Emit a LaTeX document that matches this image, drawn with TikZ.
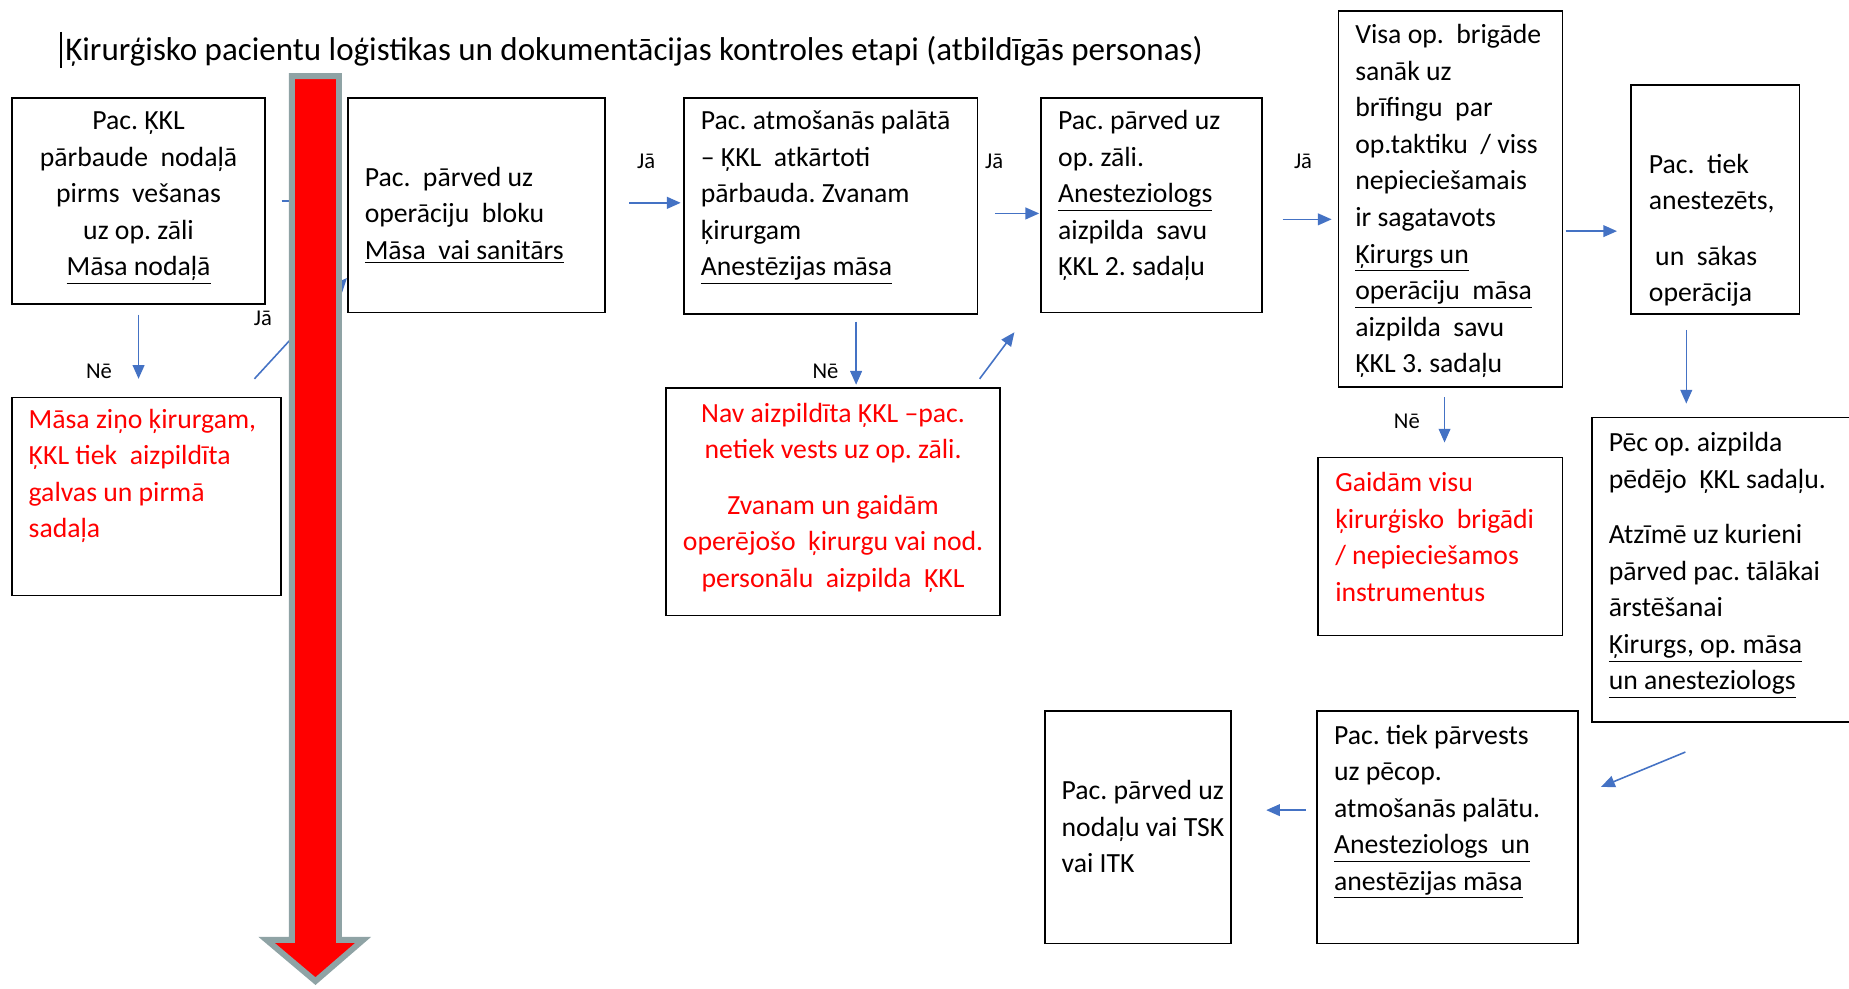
\documentclass[tikz,border=0pt]{standalone}
\usepackage{fontspec}
\setmainfont{Carlito}
\usetikzlibrary{arrows.meta,fit,calc}
\definecolor{arrblue}{HTML}{4472C4}
\definecolor{arrgray}{HTML}{8FA3A5}
\frenchspacing
\begin{document}
\begin{tikzpicture}[x=0.6pt,y=-0.6pt,
  box/.style={draw=black,line width=0.9pt,inner sep=0pt,rectangle},
  txt/.style={inner sep=0pt,font=\fontsize{14.1pt}{18.6pt}\selectfont,align=left,anchor=north west},
  ctxt/.style={inner sep=0pt,font=\fontsize{14.1pt}{18.6pt}\selectfont,align=center,anchor=north},
  redtxt/.style={text=red},
  lbl/.style={inner sep=0pt,font=\fontsize{11.5pt}{14pt}\selectfont},
  arr/.style={draw=arrblue,line width=0.8pt,-{Triangle[length=7pt,width=6pt]}},
]
\clip (0,0) rectangle (1568,838);

% title
\draw[line width=1.2pt] (52,27) -- (52,58);
\node[anchor=base west,inner sep=0pt,font=\fontsize{16.8pt}{20pt}\selectfont] (title) at (55,51)
  {Ķirurģisko pacientu loģistikas un dokumentācijas kontroles etapi (atbildīgās personas)};

% boxes
\node[box,fit={(10,83) (225,258)}] (b1) {};
\node[box,fit={(295,83) (513,265)}] (b2) {};
\node[box,fit={(580,83) (829,266)}] (b3) {};
\node[box,fit={(883,83) (1070,265)}] (b4) {};
\node[box,fit={(1135,9) (1325,328)}] (b5) {};
\node[box,fit={(1383,72) (1526,266)}] (b6) {};
\node[box,fit={(1350,354) (1575,612)}] (b7) {};
\node[box,fit={(1117,603) (1338,800)}] (b8) {};
\node[box,fit={(886,603) (1044,800)}] (b9) {};
\node[box,fit={(10,337) (238,505)}] (r1) {};
\node[box,fit={(565,329) (848,522)}] (r2) {};
\node[box,fit={(1118,388) (1325,539)}] (r3) {};

% texts
\node[ctxt] (t1) at (117.5,88) {\strut Pac. ĶKL\\ pārbaude\ \ nodaļā\\ pirms\ \ vešanas\\ uz op. zāli\\ \underline{Māsa nodaļā}};
\node[txt] (t2) at (309,136) {\strut Pac.\ \ pārved uz\\ operāciju\ \ bloku\\ \underline{Māsa\ \ vai sanitārs}};
\node[txt] (t3) at (594,88) {\strut Pac. atmošanās palātā\\ – ĶKL\ \ atkārtoti\\ pārbauda.\ Zvanam\\ ķirurgam\\ \underline{Anestēzijas māsa}};
\node[txt] (t4) at (897,88) {\strut Pac. pārved uz\\ op. zāli.\\ \underline{Anesteziologs}\\ aizpilda\ \ savu\\ ĶKL 2. sadaļu};
\node[txt] (t5) at (1149,15) {\strut Visa op.\ \ brigāde\\ sanāk uz\\ brīfingu\ \ par\\ op.taktiku\ \ / viss\\ nepieciešamais\\ ir sagatavots\\ \underline{Ķirurgs\ un}\\ \underline{operāciju\ \ māsa}\\ aizpilda\ \ savu\\ ĶKL 3. sadaļu};
\node[txt] (t6) at (1398,125) {\strut Pac.\ \ tiek\\ anestezēts,\\[9.6pt] \ un\ \ sākas\\ operācija};
\node[txt] (t7) at (1364,361) {\strut Pēc op.\ aizpilda\\ pēdējo\ \ ĶKL sadaļu.\\[9.6pt] Atzīmē uz kurieni\\ pārved\ pac. tālākai\\ ārstēšanai\\ \underline{Ķirurgs, op.\ māsa}\\ \underline{un anesteziologs}};
\node[txt] (t8) at (1131,609) {\strut Pac. tiek pārvests\\ uz pēcop.\\ atmošanās palātu.\\ \underline{Anesteziologs\ \ un}\\ \underline{anestēzijas māsa}};
\node[txt] (t9) at (900,656) {\strut Pac. pārved uz\\ nodaļu vai TSK\\ vai ITK};
\node[txt,redtxt] (tr1) at (24,341) {\strut Māsa ziņo ķirurgam,\\ ĶKL tiek\ \ aizpildīta\\ galvas un pirmā\\ sadaļa};
\node[ctxt,redtxt] (tr2) at (706.5,336) {\strut Nav aizpildīta\ ĶKL –pac.\\ netiek vests uz op. zāli.\\[9.6pt] Zvanam un gaidām\\ operējošo\ \ ķirurgu\ vai nod.\\ personālu\ \ aizpilda\ \ ĶKL};
\node[txt,redtxt] (tr3) at (1132,395) {\strut Gaidām visu\\ ķirurģisko\ \ brigādi\\ / nepiecie\-šamos\\ instrumentus};

% connectors
\draw[arr,shorten <=4.8pt,shorten >=9pt] (b1.south) -- (b1.south |- r1.north);
\node[lbl] (l1) at (84,315) {Nē};
\draw[arr] ([shift={(-23,-15)}]r1.north east) -- ([shift={(0,-30)}]b2.south west);
\node[lbl] (l2) at (223,270) {Jā};
\draw[arr,shorten <=7.8pt,shorten >=6pt] (b1.east) -- (b1.east -| b2.west);
\draw[arr,shorten <=12pt,shorten >=1.2pt] ([yshift=1.2pt]b2.east) -- ([yshift=1.2pt]b2.east -| b3.west);
\node[lbl] (l3) at (548,137) {Jā};
\draw[arr,shorten <=3.6pt,shorten >=1.2pt] ([xshift=12.9pt]b3.south) -- ([xshift=12.9pt]b3.south |- r2.north);
\node[lbl] (l4) at (700,315) {Nē};
\draw[arr] ([shift={(-18,-7)}]r2.north east) -- ([shift={(-22,16)}]b4.south west);
\draw[arr,shorten <=8.4pt,shorten >=0.6pt] ([yshift=-3.9pt]b3.east) -- ([yshift=-3.9pt]b3.east -| b4.west);
\node[lbl] (l5) at (843,137) {Jā};
\draw[arr,shorten <=10.2pt,shorten >=3pt] ([yshift=-7.2pt]b4.east) -- ([yshift=-7.2pt]b4.east -| b5.west);
\node[lbl] (l6) at (1105,137) {Jā};
\draw[arr,shorten <=4.8pt,shorten >=7.2pt] ([xshift=-3pt]b5.south) -- ([xshift=-3pt]b5.south |- r3.north);
\node[lbl] (l7) at (1193,357) {Nē};
\draw[arr,shorten <=1.2pt,shorten >=6.6pt] ([yshift=-16.5pt]b5.east) -- ([yshift=-16.5pt]b5.east -| b6.west);
\draw[arr,shorten <=7.8pt,shorten >=6.6pt] ([xshift=-14.7pt]b6.south) -- ([xshift=-14.7pt]b6.south |- b7.north);
\draw[arr] ([shift={(80,25)}]b7.south west) -- ([shift={(19,65)}]b8.north east);
\draw[arr,shorten <=5.4pt,shorten >=17.4pt] ([yshift=8.7pt]b8.west) -- ([yshift=8.7pt]b8.west -| b9.east);

% big red arrow
\draw[fill=red,draw=arrgray,line width=3pt,line join=miter]
  (247.5,64.5) -- (287.5,64.5) -- (287.5,797) -- (308,797) -- (267.5,832) -- (226,797) -- (247.5,797) -- cycle;
\end{tikzpicture}
\end{document}
